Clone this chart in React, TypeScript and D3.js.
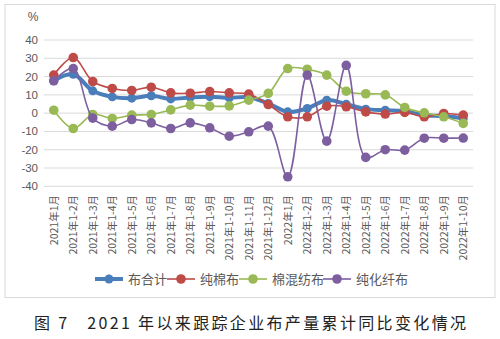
import React from "react";
import * as d3 from "d3";

const categories = [
  "2021年1月", "2021年1-2月", "2021年1-3月", "2021年1-4月", "2021年1-5月", "2021年1-6月",
  "2021年1-7月", "2021年1-8月", "2021年1-9月", "2021年1-10月", "2021年1-11月", "2021年1-12月",
  "2022年1月", "2022年1-2月", "2022年1-3月", "2022年1-4月", "2022年1-5月", "2022年1-6月",
  "2022年1-7月", "2022年1-8月", "2022年1-9月", "2022年1-10月",
];
const totalCloth = [17.7, 21.3, 12.2, 8.9, 8.2, 9.5, 7.8, 8.6, 9.0, 8.4, 8.7, 5.3, 0.7, 2.6, 7.1, 4.9, 2.2, 1.6, 1.1, -1.1, -1.6, -2.9];
const pureCotton = [20.8, 30.4, 17.3, 13.5, 12.4, 14.2, 11.1, 10.9, 11.8, 11.1, 10.4, 4.7, -2.0, -2.0, 3.8, 3.5, 0.7, -0.5, 0.4, -2.0, -0.2, -1.1];
const cottonBlend = [1.6, -8.4, -0.7, -2.9, -1.1, -0.7, 1.8, 4.4, 3.8, 4.0, 7.1, 10.8, 24.4, 24.0, 20.8, 12.0, 10.6, 10.0, 3.1, 0.2, -2.0, -5.6];
const pureSynthetic = [17.7, 24.4, -2.7, -7.1, -3.5, -5.3, -8.4, -5.3, -8.0, -12.6, -10.2, -7.1, -34.8, 20.8, -15.3, 26.1, -24.2, -20.0, -20.2, -13.7, -13.7, -13.6];
const yTicks = [40, 30, 20, 10, 0, -10, -20, -30, -40];
const seriesNames = ["布合计", "纯棉布", "棉混纺布", "纯化纤布"];
const seriesColors = ["#4A7EBB", "#BE4B48", "#98B954", "#7D5FA0"];

const W = 500, H = 339;
const left = 44, right = 473, top = 40, bottom = 186.3;

export default function App() {
  const x = d3.scaleBand<string>().domain(categories).range([left, right]);
  const y = d3.scaleLinear().domain([-40, 40]).range([bottom, top]);
  const cx = (c: string) => (x(c) as number) + x.bandwidth() / 2;
  const data = [totalCloth, pureCotton, cottonBlend, pureSynthetic];
  const line = d3
    .line<number>()
    .x((_, i) => cx(categories[i]))
    .y((d) => y(d))
    .curve(d3.curveCatmullRom.alpha(0.5));
  const widths = [4, 1.6, 1.6, 1.6];
  const radii = [4.5, 4.8, 4.8, 4.8];
  const legendX = [95, 167, 239, 323];
  const legendY = 279;
  const font = "'Liberation Sans', Arial, sans-serif";
  const cjk = "'Noto Sans CJK SC', sans-serif";

  return (
    <svg width={W} height={H} style={{ position: "absolute", left: 0, top: 0, background: "#fff" }}>
      <rect x={5} y={4.5} width={490} height={293} fill="#fff" stroke="#D9D9D9" strokeWidth={1} />
      <text x={33} y={21} fontSize={12} fill="#595959" fontFamily={font} textAnchor="middle">%</text>
      {yTicks.map((t) => (
        <g key={t}>
          <line x1={left} x2={right} y1={y(t)} y2={y(t)} stroke="#D9D9D9" strokeWidth={1} />
          <text x={38} y={y(t) + 4} fontSize={11.5} fill="#595959" fontFamily={font} textAnchor="end">{t}</text>
        </g>
      ))}
      {categories.map((c) => (
        <text
          key={c}
          transform={`translate(${cx(c) + 4},195) rotate(-90)`}
          fontSize={10.5}
          fill="#595959"
          fontFamily={cjk}
          textAnchor="end"
        >
          {c}
        </text>
      ))}
      {data.map((s, k) => (
        <g key={k}>
          <path d={line(s) as string} fill="none" stroke={seriesColors[k]} strokeWidth={widths[k]} strokeLinejoin="round" />
          {s.map((v, i) => (
            <circle key={i} cx={cx(categories[i])} cy={y(v)} r={radii[k]} fill={seriesColors[k]} />
          ))}
        </g>
      ))}
      {seriesNames.map((n, k) => (
        <g key={n}>
          <line x1={legendX[k]} x2={legendX[k] + 28} y1={legendY} y2={legendY} stroke={seriesColors[k]} strokeWidth={widths[k]} />
          <circle cx={legendX[k] + 14} cy={legendY} r={radii[k]} fill={seriesColors[k]} />
          <text x={legendX[k] + 33} y={legendY + 5} fontSize={13} fill="#595959" fontFamily={cjk}>{n}</text>
        </g>
      ))}
      <text
        x={34}
        y={329}
        fontSize={16}
        fill="#222"
        fontFamily={cjk}
        textLength={432}
        lengthAdjust="spacing"
        style={{ whiteSpace: "pre" }}
      >
        {"图 7   2021 年以来跟踪企业布产量累计同比变化情况"}
      </text>
    </svg>
  );
}
